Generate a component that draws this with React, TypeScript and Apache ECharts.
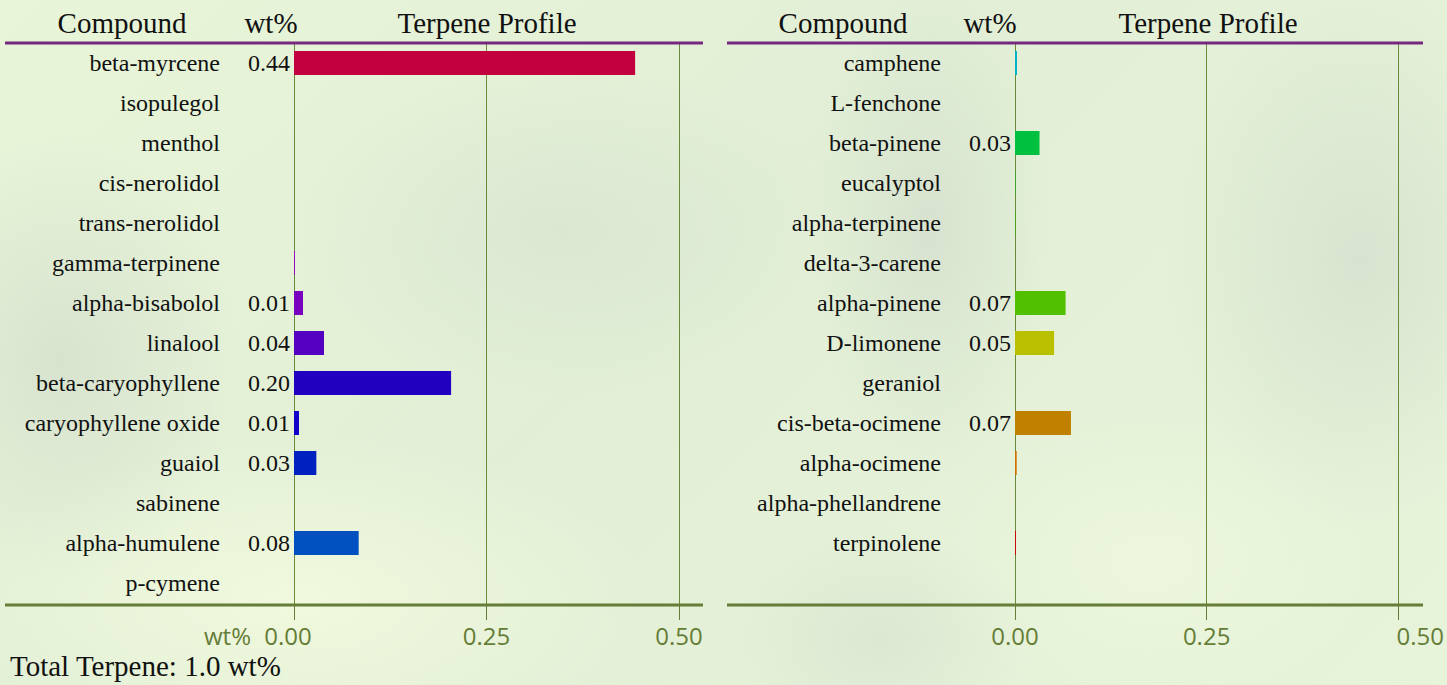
import React, { useEffect, useRef } from "react";
import * as echarts from "echarts";

const leftCompounds = [
  "beta-myrcene", "isopulegol", "menthol", "cis-nerolidol", "trans-nerolidol",
  "gamma-terpinene", "alpha-bisabolol", "linalool", "beta-caryophyllene",
  "caryophyllene oxide", "guaiol", "sabinene", "alpha-humulene", "p-cymene",
];
const leftValues = [0.443, 0, 0, 0, 0, 0.0012, 0.0117, 0.039, 0.204, 0.0065, 0.029, 0, 0.084, 0];
const leftColors = [
  "#c2003f", "#b0008a", "#a000a8", "#9400b8", "#9000c4", "#9a00d0", "#7a00c0",
  "#5500c0", "#2200c0", "#1000c8", "#0020c0", "#0038c0", "#0050c0", "#0068c0",
];

const rightCompounds = [
  "camphene", "L-fenchone", "beta-pinene", "eucalyptol", "alpha-terpinene",
  "delta-3-carene", "alpha-pinene", "D-limonene", "geraniol", "cis-beta-ocimene",
  "alpha-ocimene", "alpha-phellandrene", "terpinolene", "",
];
const rightValues = [0.0026, 0, 0.032, 0.0006, 0.0006, 0, 0.066, 0.051, 0, 0.073, 0.0022, 0, 0.0012, 0];
const rightColors = [
  "#00b4c8", "#00c090", "#00c040", "#10c020", "#30c000", "#40c000", "#50c000",
  "#b8c000", "#c0a000", "#c08000", "#d07000", "#c84000", "#d00000", "#c00000",
];

const xTicks = { min: 0, max: 0.5, interval: 0.25 };
const totalText = "Total Terpene: 1.0 wt%";

const SERIF = '"Liberation Serif", "Times New Roman", serif';
const SANS = '"Open Sans", sans-serif';
const OLIVE = "#657d36";
const GRIDGREEN = "#6a8a3a";
const PURPLE = "#74297f";

function makeAxes(idx: number, cats: string[]) {
  return {
    x: {
      gridIndex: idx,
      type: "value",
      min: xTicks.min,
      max: xTicks.max,
      interval: xTicks.interval,
      axisLine: { show: false },
      axisTick: { show: true, length: 17, lineStyle: { color: OLIVE, width: 1 } },
      axisLabel: {
        formatter: (v: number) => {
          const s = v.toFixed(2);
          if (idx === 1 && v >= xTicks.max) return "{r|" + s + "}";
          if (idx === 0 && v <= xTicks.min) return "{l|" + s + "}";
          return s;
        },
        color: OLIVE,
        fontSize: 24,
        fontFamily: SANS,
        margin: 20,
        rich: {
          r: { color: OLIVE, fontSize: 24, fontFamily: SANS, padding: [0, 0, 0, 44] },
          l: { color: OLIVE, fontSize: 24, fontFamily: SANS, padding: [0, 12, 0, 0] },
        },
      },
      splitLine: { show: true, lineStyle: { color: GRIDGREEN, width: 1 } },
    },
    y: {
      gridIndex: idx,
      type: "category",
      inverse: true,
      data: cats,
      axisLine: { show: true, lineStyle: { color: GRIDGREEN, width: 1 } },
      axisTick: { show: false },
      axisLabel: { margin: 74, fontSize: 24, fontFamily: SERIF, color: "#111" },
      splitLine: { show: false },
    },
  };
}

function makeSeries(idx: number, values: number[], colors: string[]) {
  return {
    type: "bar",
    xAxisIndex: idx,
    yAxisIndex: idx,
    barWidth: 24,
    data: values.map((v, i) => ({ value: v, itemStyle: { color: colors[i] } })),
    label: {
      show: true,
      position: "left",
      distance: 4,
      fontSize: 24,
      fontFamily: SERIF,
      color: "#111",
      formatter: (p: any) => (p.value >= 0.005 ? Number(p.value).toFixed(2) : ""),
    },
  };
}

function headerText(text: string, x: number) {
  return {
    type: "text",
    x,
    y: 23,
    style: {
      text,
      fontSize: 29,
      fontFamily: SERIF,
      fill: "#111",
      align: "center",
      verticalAlign: "middle",
      textAlign: "center",
      textVerticalAlign: "middle",
    },
  };
}

function hLine(x1: number, x2: number, y: number, color: string) {
  return {
    type: "line",
    z: 100,
    shape: { x1, y1: y, x2, y2: y },
    style: { stroke: color, lineWidth: 3 },
  };
}

export default function App() {
  const ref = useRef<HTMLDivElement>(null);
  useEffect(() => {
    if (!ref.current) return;
    const chart = echarts.init(ref.current, undefined, { renderer: "svg" });
    const a0 = makeAxes(0, leftCompounds);
    const a1 = makeAxes(1, rightCompounds);
    chart.setOption({
      animation: false,
      backgroundColor: "transparent",
      grid: [
        { left: 294, top: 43, width: 385, height: 560 },
        { left: 1015, top: 43, width: 384, height: 560 },
      ],
      xAxis: [a0.x, a1.x],
      yAxis: [a0.y, a1.y],
      series: [makeSeries(0, leftValues, leftColors), makeSeries(1, rightValues, rightColors)],
      graphic: [
        headerText("Compound", 122),
        headerText("wt%", 271),
        headerText("Terpene Profile", 487),
        headerText("Compound", 843),
        headerText("wt%", 990),
        headerText("Terpene Profile", 1208),
        hLine(5, 703, 43, PURPLE),
        hLine(727, 1423, 43, PURPLE),
        hLine(5, 703, 605, OLIVE),
        hLine(727, 1423, 605, OLIVE),
        {
          type: "text",
          x: 251,
          y: 635,
          style: {
            text: "wt%",
            fontSize: 24,
            fontFamily: SANS,
            fill: OLIVE,
            align: "right",
            verticalAlign: "middle",
            textAlign: "right",
            textVerticalAlign: "middle",
          },
        },
        {
          type: "text",
          x: 10,
          y: 666,
          style: {
            text: totalText,
            fontSize: 29,
            fontFamily: SERIF,
            fill: "#111",
            align: "left",
            verticalAlign: "middle",
            textAlign: "left",
            textVerticalAlign: "middle",
          },
        },
      ],
    });
    return () => chart.dispose();
  }, []);

  const bg = [
    "radial-gradient(ellipse 240px 300px at 60px 360px, rgba(205,215,200,0.55), rgba(205,215,200,0) 75%)",
    "radial-gradient(ellipse 360px 220px at 560px 230px, rgba(210,220,205,0.45), rgba(210,220,205,0) 75%)",
    "radial-gradient(ellipse 160px 320px at 930px 230px, rgba(205,216,200,0.55), rgba(205,216,200,0) 75%)",
    "radial-gradient(ellipse 260px 360px at 1360px 260px, rgba(205,216,200,0.55), rgba(205,216,200,0) 75%)",
    "radial-gradient(ellipse 200px 150px at 880px 640px, rgba(210,220,204,0.45), rgba(210,220,204,0) 75%)",
    "radial-gradient(ellipse 460px 220px at 300px 600px, rgba(242,250,222,0.9), rgba(242,250,222,0) 75%)",
    "radial-gradient(ellipse 300px 200px at 1150px 560px, rgba(238,248,222,0.8), rgba(238,248,222,0) 75%)",
    "linear-gradient(135deg, #e8f5d8 0%, #e2efd6 45%, #e8f4da 100%)",
  ].join(", ");

  return (
    <div
      style={{
        position: "fixed",
        left: 0,
        top: 0,
        width: 1447,
        height: 685,
        background: bg,
      }}
    >
      <div ref={ref} style={{ width: 1447, height: 685 }} />
    </div>
  );
}
